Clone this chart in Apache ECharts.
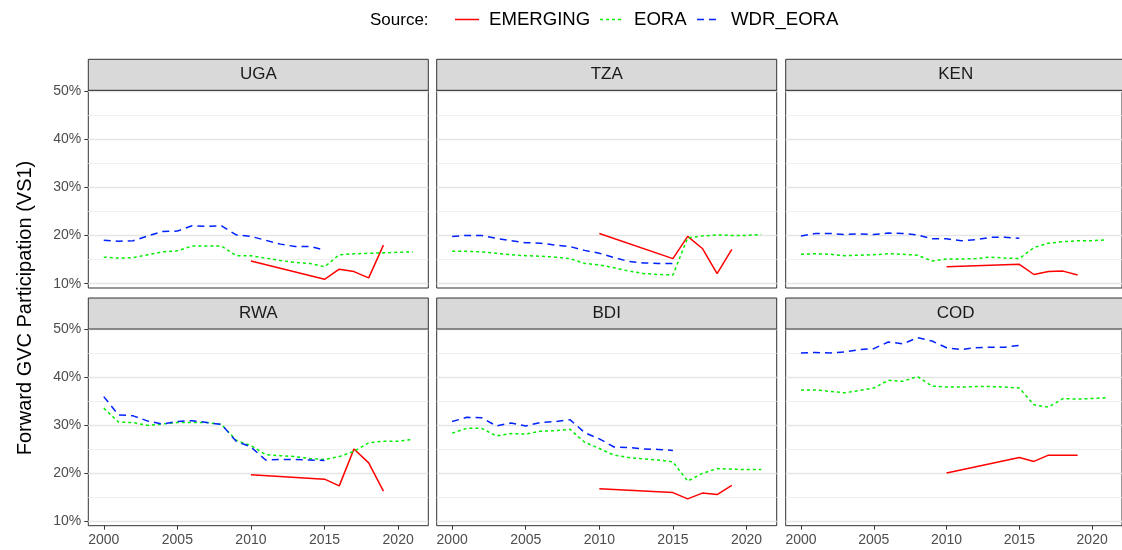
<!DOCTYPE html>
<html>
<head>
<meta charset="utf-8">
<script src="https://cdn.jsdelivr.net/npm/echarts@6/dist/echarts.min.js"></script>
<style>
html,body{margin:0;padding:0;background:#fff;}
#chart{width:1122px;height:550px;}
</style>
</head>
<body>
<div id="chart"></div>
<script>
// ---- data ----
const years = [2000,2001,2002,2003,2004,2005,2006,2007,2008,2009,2010,2011,2012,2013,2014,2015,2016,2017,2018,2019,2020,2021];
const countries = ['UGA','TZA','KEN','RWA','BDI','COD'];
const sources = ['EMERGING','EORA','WDR_EORA'];
const yTicks = [10,20,30,40,50];
const xTicks = [2000,2005,2010,2015,2020];

const UGA_EMERGING = [null,null,null,null,null,null,null,null,null,null,14.7,null,null,null,null,10.9,13.0,12.5,11.2,18.0,null,null];
const UGA_EORA = [15.5,15.3,15.4,16.0,16.6,16.8,17.8,17.8,17.8,15.8,15.8,15.3,14.8,14.4,14.2,13.5,16.0,16.2,16.3,16.4,16.5,16.6];
const UGA_WDR_EORA = [19.0,18.8,18.9,19.9,20.8,20.9,22.0,21.9,22.0,20.1,19.8,19.0,18.2,17.7,17.7,17.0,null,null,null,null,null,null];

const TZA_EMERGING = [null,null,null,null,null,null,null,null,null,null,20.4,null,null,null,null,15.2,19.8,17.3,12.1,17.1,null,null];
const TZA_EORA = [16.7,16.7,16.6,16.3,16.0,15.8,15.7,15.5,15.2,14.2,13.9,13.3,12.6,12.1,11.9,11.8,19.5,19.9,20.1,20.0,20.0,20.2];
const TZA_WDR_EORA = [19.8,20.0,20.0,19.4,18.9,18.5,18.4,18.0,17.7,16.9,16.3,15.4,14.6,14.3,14.2,14.2,null,null,null,null,null,null];

const KEN_EMERGING = [null,null,null,null,null,null,null,null,null,null,13.5,null,null,null,null,14.0,11.9,12.5,12.6,11.8,null,null];
const KEN_EORA = [16.1,16.2,16.1,15.8,15.9,16.0,16.2,16.1,15.9,14.7,15.1,15.1,15.2,15.5,15.3,15.2,17.5,18.4,18.7,18.9,18.9,19.1];
const KEN_WDR_EORA = [19.9,20.4,20.4,20.2,20.3,20.2,20.5,20.4,20.1,19.3,19.3,18.9,19.1,19.6,19.6,19.4,null,null,null,null,null,null];

const RWA_EMERGING = [null,null,null,null,null,null,null,null,null,null,19.7,null,null,null,null,18.8,17.4,25.1,22.2,16.3,null,null];
const RWA_EORA = [33.6,30.7,30.6,30.0,30.3,30.6,30.6,30.6,30.2,26.9,25.8,23.9,23.7,23.5,23.1,22.9,23.5,24.6,26.4,26.7,26.7,27.1];
const RWA_WDR_EORA = [36.0,32.2,32.0,30.9,30.3,30.8,31.0,30.6,30.2,26.7,25.5,22.8,22.9,22.9,22.8,22.7,null,null,null,null,null,null];

const BDI_EMERGING = [null,null,null,null,null,null,null,null,null,null,16.8,null,null,null,null,16.0,14.7,15.9,15.6,17.5,null,null];
const BDI_EORA = [28.4,29.4,29.4,27.8,28.3,28.2,28.8,28.9,29.2,26.5,25.2,23.8,23.3,23.0,22.8,22.4,18.4,20.0,21.0,20.9,20.8,20.8];
const BDI_WDR_EORA = [30.8,31.7,31.6,29.9,30.5,29.9,30.6,30.8,31.2,28.5,27.2,25.5,25.4,25.1,25.0,24.8,null,null,null,null,null,null];

const COD_EMERGING = [null,null,null,null,null,null,null,null,null,null,20.1,null,null,null,null,23.3,22.5,23.8,23.8,23.8,null,null];
const COD_EORA = [37.4,37.4,37.1,36.8,37.3,37.8,39.4,39.2,40.2,38.2,38.0,38.0,38.1,38.1,38.0,37.8,34.3,33.8,35.6,35.5,35.6,35.8];
const COD_WDR_EORA = [45.1,45.2,45.1,45.3,45.8,46.0,47.4,47.0,48.3,47.6,46.2,45.8,46.2,46.3,46.3,46.7,null,null,null,null,null,null];

const dataByCountry = {
  UGA: [UGA_EMERGING, UGA_EORA, UGA_WDR_EORA],
  TZA: [TZA_EMERGING, TZA_EORA, TZA_WDR_EORA],
  KEN: [KEN_EMERGING, KEN_EORA, KEN_WDR_EORA],
  RWA: [RWA_EMERGING, RWA_EORA, RWA_WDR_EORA],
  BDI: [BDI_EMERGING, BDI_EORA, BDI_WDR_EORA],
  COD: [COD_EMERGING, COD_EORA, COD_WDR_EORA]
};

// ---- layout / style ----
const FONT = "'Liberation Sans', Arial, Helvetica, sans-serif";
const colLeft = [88.3, 436.7, 785.7];
const panelW = 340;
const rowTop = [90.3, 329];
const panelH = [197.7, 196.7];
const stripH = 31;
const Y_MIN = 9.1, Y_MAX = 50.1;
const X_MIN = 1998.95, X_MAX = 2022.05;
const seriesStyle = {
  EMERGING: {color: '#FF0000', type: 'solid'},
  EORA: {color: '#00EE00', type: [3, 3]},
  WDR_EORA: {color: '#0022FF', type: [7, 5]}
};
const gridVals = [10,15,20,25,30,35,40,45,50];

const grids = [], xAxes = [], yAxes = [], series = [], graphics = [];

countries.forEach((c, i) => {
  const row = Math.floor(i / 3), col = i % 3;
  grids.push({
    left: colLeft[col], top: rowTop[row], width: panelW, height: panelH[row],
    show: true, borderColor: '#333333', borderWidth: 1, backgroundColor: '#FFFFFF',
    containLabel: false
  });
  const bottomRow = row === 1;
  xAxes.push({
    type: 'value', gridIndex: i, min: X_MIN, max: X_MAX,
    axisLine: {show: false},
    splitLine: {show: false},
    axisTick: {show: bottomRow, length: 4, lineStyle: {color: '#333333'}, customValues: xTicks},
    axisLabel: {show: bottomRow, customValues: xTicks, formatter: v => String(v), color: '#4D4D4D', fontSize: 14, fontFamily: FONT, margin: 7}
  });
  const leftCol = col === 0;
  yAxes.push({
    type: 'value', gridIndex: i, min: Y_MIN, max: Y_MAX,
    axisLine: {show: false},
    splitLine: {show: false},
    axisTick: {show: leftCol, length: 4, lineStyle: {color: '#333333'}, customValues: yTicks},
    axisLabel: {show: leftCol, customValues: yTicks, formatter: v => v + '%', color: '#4D4D4D', fontSize: 14, fontFamily: FONT, margin: 7}
  });
  // grid lines
  series.push({
    type: 'line', xAxisIndex: i, yAxisIndex: i, data: [], z: 1, silent: true,
    markLine: {
      silent: true, symbol: 'none', z: 1, animation: false,
      label: {show: false},
      emphasis: {disabled: true},
      lineStyle: {color: '#EBEBEB', type: 'solid'},
      data: gridVals.map(v => ({yAxis: v, lineStyle: {color: v % 10 === 0 ? '#E5E5E5' : '#EEEEEE', width: v % 10 === 0 ? 1.4 : 0.9, type: 'solid'}}))
    }
  });
  sources.forEach((s, k) => {
    const vals = dataByCountry[c][k];
    series.push({
      name: s, type: 'line', xAxisIndex: i, yAxisIndex: i,
      data: years.map((y, j) => [y, vals[j]]),
      connectNulls: true, showSymbol: false, symbol: 'none', z: 3,
      lineStyle: {color: seriesStyle[s].color, type: seriesStyle[s].type, width: 1.5},
      itemStyle: {color: seriesStyle[s].color},
      animation: false, silent: true
    });
  });
  // strip
  graphics.push({
    type: 'rect', shape: {x: colLeft[col], y: rowTop[row] - stripH, width: panelW, height: stripH},
    style: {fill: '#D9D9D9', stroke: '#333333', lineWidth: 1}, z: 10
  });
  graphics.push({
    type: 'text', x: colLeft[col] + panelW / 2, y: rowTop[row] - stripH / 2, z: 11,
    style: {text: c, fontSize: 17, fontFamily: FONT, fill: '#1A1A1A', textAlign: 'center', textVerticalAlign: 'middle'}
  });
});

graphics.push({
  type: 'text', x: 25, y: 308, rotation: Math.PI / 2, z: 11,
  style: {text: 'Forward GVC Participation (VS1)', fontSize: 20, fontFamily: FONT, fill: '#000000', textAlign: 'center', textVerticalAlign: 'middle'}
});

// legend (drawn as graphics so the line styles match)
graphics.push({
  type: 'text', x: 370, y: 20, z: 11,
  style: {text: 'Source:', fontSize: 17, fontFamily: FONT, fill: '#000000', textAlign: 'left', textVerticalAlign: 'middle'}
});
const legendIconX = [455, 600, 697];
sources.forEach((s, k) => {
  const st = seriesStyle[s];
  graphics.push({
    type: 'line', z: 11,
    shape: {x1: legendIconX[k], y1: 19.5, x2: legendIconX[k] + 24, y2: 19.5},
    style: {stroke: st.color, lineWidth: 1.5, lineDash: st.type === 'solid' ? null : st.type}
  });
  graphics.push({
    type: 'text', x: legendIconX[k] + 34, y: 20, z: 11,
    style: {text: s, fontSize: 18.6, fontFamily: FONT, fill: '#000000', textAlign: 'left', textVerticalAlign: 'middle'}
  });
});

const chart = echarts.init(document.getElementById('chart'), null, {renderer: 'canvas'});
chart.setOption({
  animation: false,
  backgroundColor: '#FFFFFF',
  grid: grids, xAxis: xAxes, yAxis: yAxes, series: series, graphic: graphics
});
</script>
</body>
</html>
